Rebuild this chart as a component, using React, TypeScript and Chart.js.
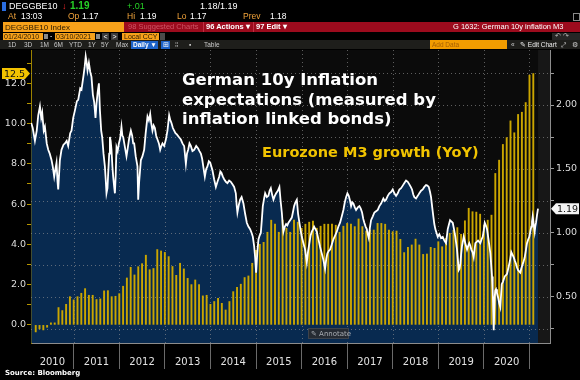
import React, { useEffect, useRef } from 'react';
import { Chart, registerables } from 'chart.js';

Chart.register(...registerables);

// Eurozone M3 growth YoY (%), monthly, Feb 2010 .. Jan 2021 (left axis)
const m3Values = [
  -0.35, -0.2, -0.25, -0.12, 0.1, 0.1, 0.86, 0.71, 1.02, 1.4, 1.24,
  1.4, 1.57, 1.8, 1.47, 1.47, 1.26, 1.29, 1.69, 1.7, 1.4, 1.42, 1.55,
  1.92, 2.33, 2.86, 2.48, 2.89, 3.04, 3.46, 2.74, 2.8, 3.74, 3.67, 3.6,
  3.39, 2.9, 2.46, 3.06, 2.78, 2.31, 2.0, 2.23, 2.0, 1.44, 1.47, 1.02,
  1.16, 1.32, 1.07, 0.74, 1.16, 1.65, 1.87, 2.02, 2.35, 2.43, 3.06, 3.7,
  4.0, 4.1, 4.6, 5.2, 5.0, 4.6, 5.2, 4.8, 4.6, 5.2, 5.1, 4.8,
  5.0, 5.1, 5.15, 4.8, 4.9, 5.0, 5.0, 5.0, 4.95, 4.6, 4.9, 5.04,
  5.0, 4.88, 5.26, 4.88, 4.66, 4.71, 4.71, 5.04, 5.04, 5.0, 4.71, 4.63,
  4.66, 4.25, 3.59, 3.85, 3.97, 4.26, 3.97, 3.5, 3.52, 3.85, 3.8, 4.13,
  3.88, 4.3, 4.55, 4.7, 4.83, 4.5, 5.17, 5.79, 5.62, 5.6, 5.5, 4.96,
  5.2, 5.45, 7.52, 8.18, 8.96, 9.3, 10.13, 9.54, 10.45, 10.56, 11.04, 12.4,
  12.48,
];
// first bar (Feb 2010) is plotted at its month end
const m3FirstMonthEnd = 2;

// German 10y breakeven inflation (%), right axis
const lineDates = [
  2010.068, 2010.101, 2010.149, 2010.189, 2010.222, 2010.259, 2010.287, 2010.309, 2010.342, 2010.368,
  2010.408, 2010.441, 2010.474, 2010.513, 2010.540, 2010.572, 2010.599, 2010.623, 2010.645, 2010.660,
  2010.697, 2010.732, 2010.776, 2010.807, 2010.846, 2010.879, 2010.923, 2010.952, 2010.989,
  2011.022, 2011.070, 2011.099, 2011.143, 2011.171, 2011.215, 2011.241, 2011.263, 2011.285, 2011.303,
  2011.333, 2011.362, 2011.390, 2011.421, 2011.450, 2011.478, 2011.500, 2011.526, 2011.553, 2011.575,
  2011.603, 2011.625, 2011.654, 2011.684, 2011.702, 2011.719, 2011.741, 2011.757, 2011.779, 2011.794,
  2011.811, 2011.829, 2011.849, 2011.866, 2011.888, 2011.904, 2011.921, 2011.939, 2011.965, 2011.991,
  2012.020, 2012.048, 2012.068, 2012.086, 2012.119, 2012.158, 2012.184, 2012.217, 2012.254, 2012.283,
  2012.305, 2012.327, 2012.360, 2012.399, 2012.415, 2012.436, 2012.474, 2012.509, 2012.546, 2012.579,
  2012.619, 2012.649, 2012.678, 2012.700, 2012.728, 2012.754, 2012.781, 2012.809, 2012.838, 2012.869,
  2012.897, 2012.923, 2012.947, 2012.985,
  2013.022, 2013.057, 2013.094, 2013.121, 2013.145, 2013.176, 2013.204, 2013.233, 2013.263, 2013.307,
  2013.351, 2013.386, 2013.423, 2013.461, 2013.485, 2013.511, 2013.540, 2013.570, 2013.605, 2013.643,
  2013.687, 2013.730, 2013.759, 2013.790, 2013.818, 2013.851, 2013.877, 2013.906, 2013.934, 2013.965,
  2013.994,
  2014.020, 2014.044, 2014.081, 2014.119, 2014.154, 2014.191, 2014.217, 2014.241, 2014.272, 2014.301,
  2014.338, 2014.373, 2014.410, 2014.447, 2014.483, 2014.520, 2014.557, 2014.575, 2014.592, 2014.623,
  2014.651, 2014.684, 2014.724, 2014.761, 2014.798, 2014.833, 2014.871, 2014.904, 2014.930, 2014.958,
  2014.980,
  2015.002, 2015.029, 2015.053, 2015.079, 2015.105, 2015.127, 2015.149, 2015.178, 2015.200, 2015.237,
  2015.272, 2015.298, 2015.325, 2015.353, 2015.382, 2015.412, 2015.441, 2015.478, 2015.513, 2015.540,
  2015.566, 2015.583, 2015.601, 2015.632, 2015.660, 2015.687, 2015.711, 2015.748, 2015.785, 2015.814,
  2015.836, 2015.864, 2015.895, 2015.923, 2015.952, 2015.978,
  2016.005, 2016.040, 2016.077, 2016.114, 2016.143, 2016.171, 2016.197, 2016.224, 2016.252, 2016.274,
  2016.303, 2016.333, 2016.369, 2016.406, 2016.443, 2016.478, 2016.515, 2016.542, 2016.566, 2016.597,
  2016.625, 2016.662, 2016.697, 2016.735, 2016.772, 2016.807, 2016.844, 2016.882, 2016.917, 2016.948,
  2016.976,
  2017.005, 2017.035, 2017.064, 2017.086, 2017.112, 2017.136, 2017.167, 2017.195, 2017.233, 2017.268,
  2017.298, 2017.327, 2017.353, 2017.377, 2017.404, 2017.430, 2017.452, 2017.474, 2017.498, 2017.524,
  2017.562, 2017.597, 2017.634, 2017.671, 2017.706, 2017.744, 2017.794, 2017.825, 2017.853, 2017.890,
  2017.926, 2017.963,
  2018.000, 2018.035, 2018.073, 2018.110, 2018.145, 2018.182, 2018.219, 2018.255, 2018.292, 2018.329,
  2018.364, 2018.395, 2018.423, 2018.450, 2018.474, 2018.511, 2018.548, 2018.583, 2018.621, 2018.658,
  2018.693, 2018.730, 2018.759, 2018.790, 2018.818, 2018.840, 2018.866, 2018.890, 2018.912, 2018.934,
  2018.961, 2018.987,
  2019.022, 2019.059, 2019.097, 2019.132, 2019.169, 2019.206, 2019.235, 2019.257, 2019.285, 2019.316,
  2019.344, 2019.373, 2019.410, 2019.448, 2019.465, 2019.483, 2019.502, 2019.520, 2019.557, 2019.592,
  2019.630, 2019.656, 2019.680, 2019.702, 2019.724, 2019.750, 2019.776, 2019.812, 2019.842, 2019.871,
  2019.897, 2019.921, 2019.948, 2019.974, 2019.996,
  2020.018, 2020.042, 2020.068, 2020.105, 2020.141, 2020.160, 2020.178, 2020.193, 2020.215, 2020.237,
  2020.250, 2020.266, 2020.287, 2020.309, 2020.336, 2020.360, 2020.391, 2020.419, 2020.456, 2020.485,
  2020.507, 2020.533, 2020.557, 2020.579, 2020.601, 2020.627, 2020.654, 2020.682, 2020.704, 2020.726,
  2020.748, 2020.774, 2020.798, 2020.818, 2020.836, 2020.864, 2020.895, 2020.923, 2020.945, 2020.972,
  2020.996,
  2021.018, 2021.040, 2021.055, 2021.070, 2021.092, 2021.114, 2021.127, 2021.143, 2021.165, 2021.187,
];
const lineValues = [
  1.86, 1.82, 1.72, 1.80, 1.92, 1.99, 1.90, 1.94, 1.80, 1.83,
  1.70, 1.65, 1.62, 1.57, 1.52, 1.44, 1.50, 1.55, 1.40, 1.34,
  1.57, 1.65, 1.69, 1.70, 1.72, 1.68, 1.78, 1.80, 1.90,
  1.95, 2.03, 2.04, 2.13, 2.12, 2.23, 2.30, 2.38, 2.33, 2.27,
  2.33, 2.26, 2.22, 2.08, 2.02, 1.90, 2.01, 2.10, 2.17, 1.96,
  1.80, 1.75, 1.62, 1.52, 1.42, 1.31, 1.35, 1.47, 1.62, 1.75,
  1.72, 1.65, 1.52, 1.44, 1.36, 1.31, 1.45, 1.67, 1.64, 1.70,
  1.74, 1.83, 1.76, 1.75, 1.68, 1.60, 1.66, 1.74, 1.80, 1.76,
  1.70, 1.70, 1.60, 1.52, 1.26, 1.40, 1.57, 1.60, 1.65, 1.78,
  1.91, 1.88, 1.93, 1.86, 1.80, 1.84, 1.82, 1.76, 1.73, 1.70,
  1.65, 1.68, 1.70, 1.68,
  1.73, 1.80, 1.92, 1.88, 1.86, 1.82, 1.80, 1.78, 1.77, 1.75,
  1.73, 1.70, 1.68, 1.54, 1.62, 1.65, 1.70, 1.68, 1.64, 1.65,
  1.68, 1.66, 1.64, 1.62, 1.58, 1.50, 1.44, 1.50, 1.52, 1.56,
  1.55,
  1.52, 1.49, 1.42, 1.36, 1.40, 1.44, 1.48, 1.47, 1.44, 1.42,
  1.40, 1.39, 1.41, 1.40, 1.38, 1.36, 1.31, 1.22, 1.16, 1.22,
  1.26, 1.28, 1.23, 1.15, 1.08, 1.05, 1.03, 1.00, 0.97, 0.90,
  0.81,
  0.69, 0.85, 0.95, 0.98, 1.00, 1.10, 1.21, 1.27, 1.31, 1.28,
  1.29, 1.33, 1.35, 1.30, 1.26, 1.29, 1.31, 1.33, 1.36, 1.25,
  1.16, 1.08, 1.01, 1.05, 1.07, 1.06, 1.08, 1.10, 1.12, 1.17,
  1.21, 1.24, 1.26, 1.15, 1.08, 1.02,
  0.97, 0.92, 0.87, 0.77, 0.86, 0.92, 0.98, 1.01, 1.03, 1.05,
  1.03, 1.01, 0.95, 0.89, 0.84, 0.79, 0.72, 0.80, 0.84, 0.86,
  0.87, 0.91, 0.95, 0.98, 1.01, 1.05, 1.08, 1.13, 1.18, 1.24,
  1.28,
  1.31, 1.29, 1.25, 1.21, 1.24, 1.23, 1.20, 1.18, 1.20, 1.21,
  1.19, 1.16, 1.11, 1.08, 1.05, 1.03, 0.99, 0.96, 1.04, 1.10,
  1.13, 1.16, 1.17, 1.18, 1.21, 1.23, 1.27, 1.25, 1.26, 1.29,
  1.31, 1.32,
  1.34, 1.31, 1.29, 1.31, 1.34, 1.35, 1.37, 1.39, 1.41, 1.40,
  1.38, 1.36, 1.34, 1.30, 1.28, 1.27, 1.29, 1.31, 1.33, 1.34,
  1.36, 1.375, 1.37, 1.36, 1.32, 1.28, 1.20, 1.13, 1.07, 1.03,
  1.00, 0.97,
  0.99, 0.96, 0.97, 0.94, 0.92, 1.03, 1.07, 1.10, 1.09, 1.08,
  1.03, 0.97, 0.87, 0.71, 0.72, 0.76, 0.84, 0.90, 0.97, 0.92,
  0.87, 0.90, 0.92, 0.90, 0.87, 0.85, 0.81, 0.92, 0.93, 0.94,
  0.93, 0.92, 0.95, 0.97, 1.02,
  1.08, 1.06, 1.03, 0.94, 0.84, 0.75, 0.66, 0.56, 0.24, 0.50,
  0.55, 0.56, 0.53, 0.50, 0.45, 0.42, 0.60, 0.62, 0.66, 0.67,
  0.68, 0.72, 0.76, 0.80, 0.85, 0.83, 0.81, 0.78, 0.76, 0.73,
  0.71, 0.70, 0.69, 0.72, 0.74, 0.77, 0.81, 0.87, 0.92, 0.95,
  0.97,
  1.01, 1.05, 1.09, 1.13, 1.07, 1.01, 1.05, 1.08, 1.14, 1.19,
];

const yearLabels = ['2010', '2011', '2012', '2013', '2014', '2015', '2016', '2017', '2018', '2019', '2020'];
const yearBoundaries = [2011, 2012, 2013, 2014, 2015, 2016, 2017, 2018, 2019, 2020, 2021];

const titleLines = ['German 10y Inflation', 'expectations (measured by', 'inflation linked bonds)'];
const m3Label = 'Eurozone M3 growth (YoY)';

const X_MIN = 2010.063;
const X_MAX = 2021.45;
const YL_MIN = -0.9;
const YL_MAX = 13.65;
const YR_MIN = 0.14;
const YR_MAX = 2.43;

const NAVY = '#082a50';
const GOLD = '#cba600';
const TICK_FONT = { family: 'DejaVu Sans', size: 9.5 };

const bbPlugin = {
  id: 'bbDecor',
  beforeDraw(chart: any) {
    const { ctx, chartArea: a, scales } = chart;
    ctx.save();
    ctx.fillStyle = '#0b0b0b';
    ctx.fillRect(a.left, a.top, a.right - a.left, a.bottom - a.top);
    const xEnd = scales.x.getPixelForValue(lineDates[lineDates.length - 1]);
    ctx.fillStyle = '#171717';
    ctx.fillRect(xEnd, a.top, a.right - xEnd, a.bottom - a.top);
    ctx.restore();
  },
  afterDatasetDraw(chart: any, args: any) {
    if (args.index !== 0) return;
    const { ctx, chartArea: a, scales } = chart;
    ctx.save();
    ctx.strokeStyle = 'rgba(150,150,150,0.6)';
    ctx.lineWidth = 1;
    ctx.setLineDash([1, 3]);
    scales.yR.ticks.forEach((t: any) => {
      const y = Math.round(scales.yR.getPixelForValue(t.value)) + 0.5;
      if (y <= a.top || y >= a.bottom) return;
      ctx.beginPath();
      ctx.moveTo(a.left, y);
      ctx.lineTo(a.right, y);
      ctx.stroke();
    });
    scales.x.ticks.forEach((t: any) => {
      const x = Math.round(scales.x.getPixelForValue(t.value)) + 0.5;
      if (x <= a.left + 1 || x >= a.right - 1) return;
      ctx.beginPath();
      ctx.moveTo(x, a.top);
      ctx.lineTo(x, a.bottom);
      ctx.stroke();
    });
    ctx.restore();
  },
  afterDraw(chart: any) {
    const { ctx, chartArea: a, scales } = chart;
    ctx.save();
    ctx.font = '10px "DejaVu Sans"';
    ctx.fillStyle = '#e2e2e2';
    ctx.textAlign = 'center';
    ctx.textBaseline = 'middle';
    yearLabels.forEach((lab) => {
      const yr = Number(lab);
      const p0 = scales.x.getPixelForValue(Math.max(yr, X_MIN));
      const p1 = scales.x.getPixelForValue(Math.min(yr + 1, X_MAX));
      ctx.fillText(lab, (p0 + p1) / 2, a.bottom + 19);
    });

    ctx.textAlign = 'left';
    ctx.textBaseline = 'alphabetic';
    ctx.fillStyle = '#ffffff';
    ctx.font = 'bold 16.5px "DejaVu Sans"';
    titleLines.forEach((t, i) => ctx.fillText(t, 182, 85 + i * 19.5));
    ctx.fillStyle = '#f2c400';
    ctx.font = 'bold 14.5px "DejaVu Sans"';
    ctx.fillText(m3Label, 262, 157);

    const lastM3 = m3Values[m3Values.length - 1];
    const yl = scales.yL.getPixelForValue(lastM3);
    ctx.fillStyle = '#f2c200';
    ctx.beginPath();
    ctx.moveTo(2, yl - 5.5);
    ctx.lineTo(25, yl - 5.5);
    ctx.lineTo(30, yl);
    ctx.lineTo(25, yl + 5.5);
    ctx.lineTo(2, yl + 5.5);
    ctx.closePath();
    ctx.fill();
    ctx.fillStyle = '#111';
    ctx.font = '9.5px "DejaVu Sans"';
    ctx.textAlign = 'center';
    ctx.textBaseline = 'middle';
    ctx.fillText(lastM3.toFixed(1), 14.5, yl + 0.5);

    const lastBe = lineValues[lineValues.length - 1];
    const yr = scales.yR.getPixelForValue(lastBe);
    ctx.fillStyle = '#f4f4f4';
    ctx.beginPath();
    ctx.moveTo(551, yr);
    ctx.lineTo(556, yr - 5.5);
    ctx.lineTo(579, yr - 5.5);
    ctx.lineTo(579, yr + 5.5);
    ctx.lineTo(556, yr + 5.5);
    ctx.closePath();
    ctx.fill();
    ctx.fillStyle = '#111';
    ctx.fillText(lastBe.toFixed(2), 567.5, yr + 0.5);

    ctx.fillStyle = '#262b33';
    ctx.fillRect(308, a.bottom - 15, 41, 11);
    ctx.strokeStyle = '#3d434c';
    ctx.lineWidth = 1;
    ctx.strokeRect(308.5, a.bottom - 14.5, 40, 10);
    ctx.fillStyle = '#a9adb3';
    ctx.font = '7px "DejaVu Sans"';
    ctx.textAlign = 'left';
    ctx.fillText('\u270E Annotate', 311, a.bottom - 9.3);
    ctx.restore();
  },
};

const HF = '"Liberation Sans", Arial, sans-serif';

function Txt(props: { x: number; y: number; c?: string; s?: number; b?: boolean; children: React.ReactNode; style?: React.CSSProperties }) {
  const { x, y, c = '#fff', s = 8, b = false, children, style } = props;
  return (
    <span
      style={{
        position: 'absolute',
        left: x,
        top: y,
        color: c,
        fontSize: s,
        fontWeight: b ? 700 : 400,
        lineHeight: `${s + 1}px`,
        whiteSpace: 'nowrap',
        fontFamily: HF,
        ...style,
      }}
    >
      {children}
    </span>
  );
}

function Box(props: { x: number; y: number; w: number; h: number; bg: string; style?: React.CSSProperties }) {
  const { x, y, w, h, bg, style } = props;
  return <div style={{ position: 'absolute', left: x, top: y, width: w, height: h, background: bg, ...style }} />;
}

function Header() {
  const OR = '#f3a43a';
  const GR = '#26d126';
  return (
    <>
      <Box x={2} y={2} w={4} h={9} bg="#2a6de0" />
      <Txt x={9} y={1} s={9}>DEGGBE10</Txt>
      <Txt x={62} y={1} s={9} b c="#ff2a2a">↓</Txt>
      <Txt x={70} y={0} s={10} b c={GR}>1.19</Txt>
      <Txt x={127} y={1} s={9} c={GR}>+.01</Txt>
      <Txt x={200} y={1} s={9}>1.18/1.19</Txt>
      <Txt x={8} y={12} s={8.5} c={OR}>At</Txt>
      <Txt x={21} y={12} s={8.5}>13:03</Txt>
      <Txt x={68} y={12} s={8.5} c={OR}>Op</Txt>
      <Txt x={82} y={12} s={8.5}>1.17</Txt>
      <Txt x={127} y={12} s={8.5} c={OR}>Hi</Txt>
      <Txt x={140} y={12} s={8.5}>1.19</Txt>
      <Txt x={177} y={12} s={8.5} c={OR}>Lo</Txt>
      <Txt x={190} y={12} s={8.5}>1.17</Txt>
      <Txt x={243} y={12} s={8.5} c={OR}>Prev</Txt>
      <Txt x={270} y={12} s={8.5}>1.18</Txt>
      <Box x={573} y={13} w={5} h={6} bg="transparent" style={{ border: '1px solid #888' }} />
      <Box x={3} y={22} w={121} h={10} bg="#f7a11a" />
      <Txt x={5} y={22.5} s={8} c="#2a1a00">DEGGBE10 Index</Txt>
      <Box x={124} y={22} w={456} h={10} bg="#9c0b1d" />
      <Txt x={128} y={22.5} s={7.5} c="#cf5566">98 Suggested Charts</Txt>
      <Box x={203} y={22} w={1} h={10} bg="#c03045" />
      <Txt x={206} y={22.5} s={7.5} b>96 Actions ▾</Txt>
      <Box x={253} y={22} w={1} h={10} bg="#c03045" />
      <Txt x={256} y={22.5} s={7.5} b>97 Edit ▾</Txt>
      <Txt x={453} y={22.5} s={7.5}>G 1632: German 10y inflation M3</Txt>
      <Box x={3} y={33} w={40} h={7} bg="#f7a11a" />
      <Txt x={4} y={32.5} s={7} c="#2a1a00">01/24/2010</Txt>
      <Box x={44} y={34} w={4} h={5} bg="#8a8a8a" />
      <Txt x={50} y={32} s={7}>-</Txt>
      <Box x={55} y={33} w={40} h={7} bg="#f7a11a" />
      <Txt x={56} y={32.5} s={7} c="#2a1a00">03/10/2021</Txt>
      <Box x={96} y={34} w={4} h={5} bg="#8a8a8a" />
      <Box x={102} y={33} w={7} h={7} bg="#3a3a3a" />
      <Txt x={103.5} y={32.5} s={7}>&lt;</Txt>
      <Box x={111} y={33} w={7} h={7} bg="#3a3a3a" />
      <Txt x={112.5} y={32.5} s={7}>&gt;</Txt>
      <Box x={122} y={33} w={37} h={7} bg="#f7a11a" />
      <Txt x={124} y={32.5} s={7} c="#2a1a00">Local CCY</Txt>
      <Box x={160} y={33} w={5} h={7} bg="#4a4a4a" />
      <Box x={552} y={33} w={28} h={7} bg="#262626" />
      <Txt x={555} y={32} s={7} c="#bbb">↶ ↷</Txt>
      <Box x={0} y={40} w={430} h={9} bg="#1e1e1b" />
      <Txt x={8} y={40.5} s={6.5} c="#c8c8c8">1D</Txt>
      <Txt x={24} y={40.5} s={6.5} c="#c8c8c8">3D</Txt>
      <Txt x={40} y={40.5} s={6.5} c="#c8c8c8">1M</Txt>
      <Txt x={54} y={40.5} s={6.5} c="#c8c8c8">6M</Txt>
      <Txt x={69} y={40.5} s={6.5} c="#c8c8c8">YTD</Txt>
      <Txt x={88} y={40.5} s={6.5} c="#c8c8c8">1Y</Txt>
      <Txt x={101} y={40.5} s={6.5} c="#c8c8c8">5Y</Txt>
      <Txt x={116} y={40.5} s={6.5} c="#c8c8c8">Max</Txt>
      <Box x={131} y={41} w={27} h={8} bg="#1d62c8" />
      <Txt x={133} y={40.5} s={6.5} b>Daily ▼</Txt>
      <Box x={161} y={41} w={9} h={8} bg="#1d62c8" />
      <Txt x={162.5} y={40.5} s={6.5}>⊞</Txt>
      <Txt x={175} y={40.5} s={6.5} c="#c8c8c8">⁞⁞</Txt>
      <Txt x={189} y={40.5} s={6.5} c="#c8c8c8">▪</Txt>
      <Txt x={204} y={40.5} s={6.5} c="#c8c8c8">Table</Txt>
      <Box x={430} y={40} w={77} h={9} bg="#f29c00" />
      <Txt x={432} y={40.5} s={6.5} c="#a55f00">Add Data</Txt>
      <Box x={507} y={40} w={73} h={9} bg="#1e1e1b" />
      <Txt x={511} y={40.5} s={6.5} c="#ccc">«</Txt>
      <Txt x={520} y={40.5} s={6.5} c="#eee">✎ Edit Chart</Txt>
      <Txt x={561} y={40.5} s={6.5} c="#ccc">⤢</Txt>
      <Txt x={572} y={40.5} s={6.5} c="#ccc">⚙</Txt>
    </>
  );
}

export default function App() {
  const canvasRef = useRef<HTMLCanvasElement | null>(null);

  useEffect(() => {
    document.body.style.margin = '0';
    document.body.style.background = '#000';
    const canvas = canvasRef.current;
    if (!canvas) return;

    const linePts = lineDates.map((d, i) => ({ x: d, y: lineValues[i] }));
    const barPts = m3Values.map((v, i) => ({ x: 2010 + (m3FirstMonthEnd + i) / 12, y: v }));

    const chart = new Chart(canvas, {
      type: 'bar',
      data: {
        datasets: [
          {
            type: 'line',
            label: 'area',
            data: linePts,
            xAxisID: 'x',
            yAxisID: 'yR',
            borderWidth: 0,
            borderColor: 'rgba(0,0,0,0)',
            backgroundColor: NAVY,
            fill: 'start',
            pointRadius: 0,
            tension: 0,
            order: 3,
          } as any,
          {
            type: 'bar',
            label: 'Eurozone M3 growth (YoY)',
            data: barPts,
            xAxisID: 'x',
            yAxisID: 'yL',
            backgroundColor: GOLD,
            borderWidth: 0,
            barThickness: 1.25,
            order: 2,
          } as any,
          {
            type: 'line',
            label: 'German 10y inflation expectations',
            data: linePts,
            xAxisID: 'x',
            yAxisID: 'yR',
            borderColor: '#ffffff',
            borderWidth: 1.8,
            pointRadius: 0,
            fill: false,
            tension: 0,
            order: 1,
          } as any,
        ],
      },
      options: {
        responsive: false,
        animation: false,
        devicePixelRatio: 1,
        events: [],
        layout: { padding: { top: 50, left: 0, right: 0, bottom: 0 } },
        plugins: { legend: { display: false }, tooltip: { enabled: false } },
        scales: {
          x: {
            type: 'linear',
            position: 'bottom',
            min: X_MIN,
            max: X_MAX,
            offset: false,
            afterBuildTicks: (s: any) => {
              s.ticks = yearBoundaries.map((v) => ({ value: v }));
            },
            afterFit: (s: any) => {
              s.height = 37;
            },
            ticks: { callback: () => '', autoSkip: false, maxRotation: 0 },
            grid: { drawOnChartArea: false, drawTicks: true, tickLength: 26, color: '#6a6a6a', offset: false },
            border: { color: '#8c8c8c' },
          },
          yL: {
            type: 'linear',
            position: 'left',
            min: YL_MIN,
            max: YL_MAX,
            afterFit: (s: any) => {
              s.width = 31;
            },
            ticks: {
              stepSize: 1,
              includeBounds: false,
              autoSkip: false,
              color: '#dcdcdc',
              font: TICK_FONT,
              padding: 1,
              callback: (v: any) => (Math.round(Number(v)) % 2 === 0 ? Number(v).toFixed(1) : ''),
            },
            grid: { drawOnChartArea: false, tickLength: 4, color: '#b39400' },
            border: { color: '#9c8200' },
          },
          yR: {
            type: 'linear',
            position: 'right',
            min: YR_MIN,
            max: YR_MAX,
            afterFit: (s: any) => {
              s.width = 30;
            },
            ticks: {
              stepSize: 0.25,
              includeBounds: false,
              autoSkip: false,
              color: '#dcdcdc',
              font: TICK_FONT,
              padding: 2,
              callback: (v: any) => {
                const d = Number(v) * 2;
                return Math.abs(d - Math.round(d)) < 1e-6 ? Number(v).toFixed(2) : '';
              },
            },
            grid: { drawOnChartArea: false, tickLength: 4, color: '#9a9a9a' },
            border: { color: '#8c8c8c' },
          },
        },
      } as any,
      plugins: [bbPlugin],
    });

    return () => chart.destroy();
  }, []);

  return (
    <div style={{ position: 'absolute', left: 0, top: 0, width: 580, height: 380, background: '#000', overflow: 'hidden' }}>
      <canvas ref={canvasRef} width={580} height={380} style={{ position: 'absolute', left: 0, top: 0, width: 580, height: 380, display: 'block' }} />
      <Header />
      <span
        style={{
          position: 'absolute',
          left: 5,
          top: 369,
          color: '#fff',
          fontSize: 7,
          fontWeight: 700,
          lineHeight: '9px',
          fontFamily: '"DejaVu Sans", sans-serif',
          whiteSpace: 'nowrap',
        }}
      >
        Source: Bloomberg
      </span>
    </div>
  );
}
